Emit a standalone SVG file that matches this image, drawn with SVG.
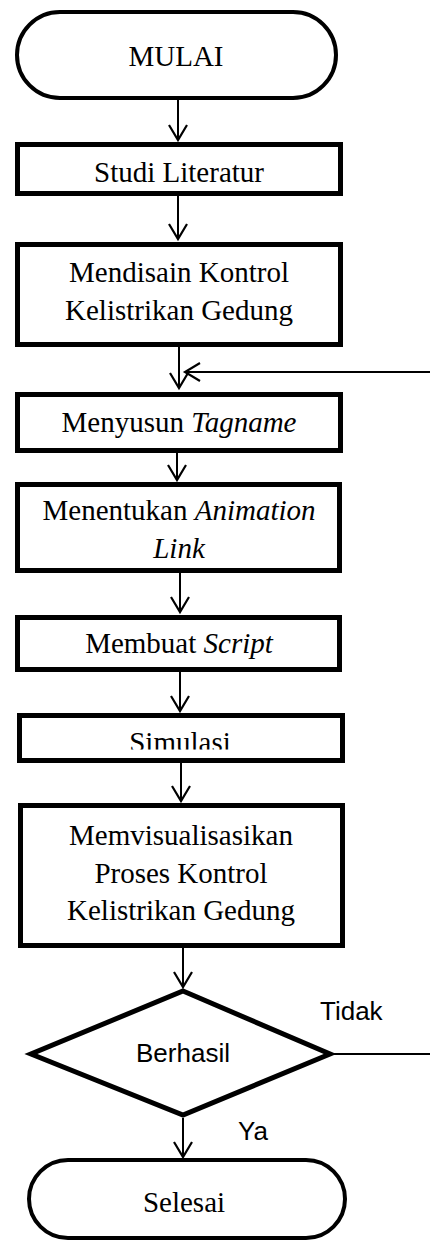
<svg xmlns="http://www.w3.org/2000/svg" width="430" height="1243" viewBox="0 0 430 1243">
<style>
.box{fill:#fff;stroke:#000;stroke-width:5}
.term{fill:#fff;stroke:#000;stroke-width:4}
.t{font-family:"Liberation Serif","Times New Roman",serif;font-size:29px;fill:#000;text-anchor:middle}
.s{font-family:"Liberation Sans",Arial,sans-serif;font-size:26px;fill:#000}
.c{stroke:#000;stroke-width:2;fill:none}
</style>
<defs>
<marker id="ah" markerUnits="userSpaceOnUse" markerWidth="22" markerHeight="24" viewBox="-18 -12 22 24" refX="0" refY="0" orient="auto" overflow="visible">
<path d="M-15,-9 L0,0 L-15,9" fill="none" stroke="#000" stroke-width="2.2"/>
</marker>
<clipPath id="simclip"><rect x="20" y="716" width="320" height="33.5"/></clipPath>
</defs>
<g id="connectors">
<line class="c" x1="178" y1="100" x2="178" y2="140" marker-end="url(#ah)"/>
<line class="c" x1="178" y1="196" x2="178" y2="239" marker-end="url(#ah)"/>
<line class="c" x1="179" y1="347" x2="179" y2="388" marker-end="url(#ah)"/>
<line class="c" x1="430" y1="372" x2="185" y2="372" marker-end="url(#ah)"/>
<line class="c" x1="177" y1="453" x2="177" y2="480" marker-end="url(#ah)"/>
<line class="c" x1="180" y1="573" x2="180" y2="612" marker-end="url(#ah)"/>
<line class="c" x1="180" y1="672" x2="180" y2="711" marker-end="url(#ah)"/>
<line class="c" x1="181" y1="763" x2="181" y2="801" marker-end="url(#ah)"/>
<line class="c" x1="183" y1="948" x2="183" y2="987" marker-end="url(#ah)"/>
<line class="c" x1="333" y1="1054" x2="430" y2="1054"/>
<line class="c" x1="183" y1="1118" x2="183" y2="1157" marker-end="url(#ah)"/>
</g>
<g id="mulai">
<rect class="term" x="17" y="12" width="319" height="86" rx="43"/>
<text class="t" x="176" y="66">MULAI</text>
</g>
<g id="studi">
<rect class="box" x="17.5" y="144.5" width="323" height="49"/>
<text class="t" x="179" y="182">Studi Literatur</text>
</g>
<g id="mendisain">
<rect class="box" x="17.5" y="244.5" width="323" height="100"/>
<text class="t" x="179" y="282">Mendisain Kontrol</text>
<text class="t" x="179" y="320">Kelistrikan Gedung</text>
</g>
<g id="menyusun">
<rect class="box" x="17.5" y="394.5" width="323" height="56"/>
<text class="t" x="179" y="432">Menyusun <tspan font-style="italic">Tagname</tspan></text>
</g>
<g id="menentukan">
<rect class="box" x="17.5" y="484.5" width="322" height="86"/>
<text class="t" x="179" y="520">Menentukan <tspan font-style="italic">Animation</tspan></text>
<text class="t" x="179" y="558" font-style="italic">Link</text>
</g>
<g id="membuat">
<rect class="box" x="17.5" y="617.5" width="322" height="52"/>
<text class="t" x="179" y="653">Membuat <tspan font-style="italic">Script</tspan></text>
</g>
<g id="simulasi">
<rect class="box" x="19.5" y="715.5" width="323" height="45"/>
<text class="t" x="180" y="752" clip-path="url(#simclip)">Simulasi</text>
</g>
<g id="memvisualisasikan">
<rect class="box" x="20.5" y="805.5" width="322" height="140"/>
<text class="t" x="181" y="845">Memvisualisasikan</text>
<text class="t" x="181" y="883">Proses Kontrol</text>
<text class="t" x="181" y="920">Kelistrikan Gedung</text>
</g>
<g id="berhasil">
<polygon class="box" points="183,991 330,1054 183,1115 31,1054"/>
<text class="s" x="183" y="1062" text-anchor="middle">Berhasil</text>
</g>
<g id="labels">
<text class="s" x="320" y="1020">Tidak</text>
<text class="s" x="238" y="1140">Ya</text>
</g>
<g id="selesai">
<rect class="term" x="29" y="1160" width="316" height="78" rx="39"/>
<text class="t" x="184" y="1212">Selesai</text>
</g>
</svg>
